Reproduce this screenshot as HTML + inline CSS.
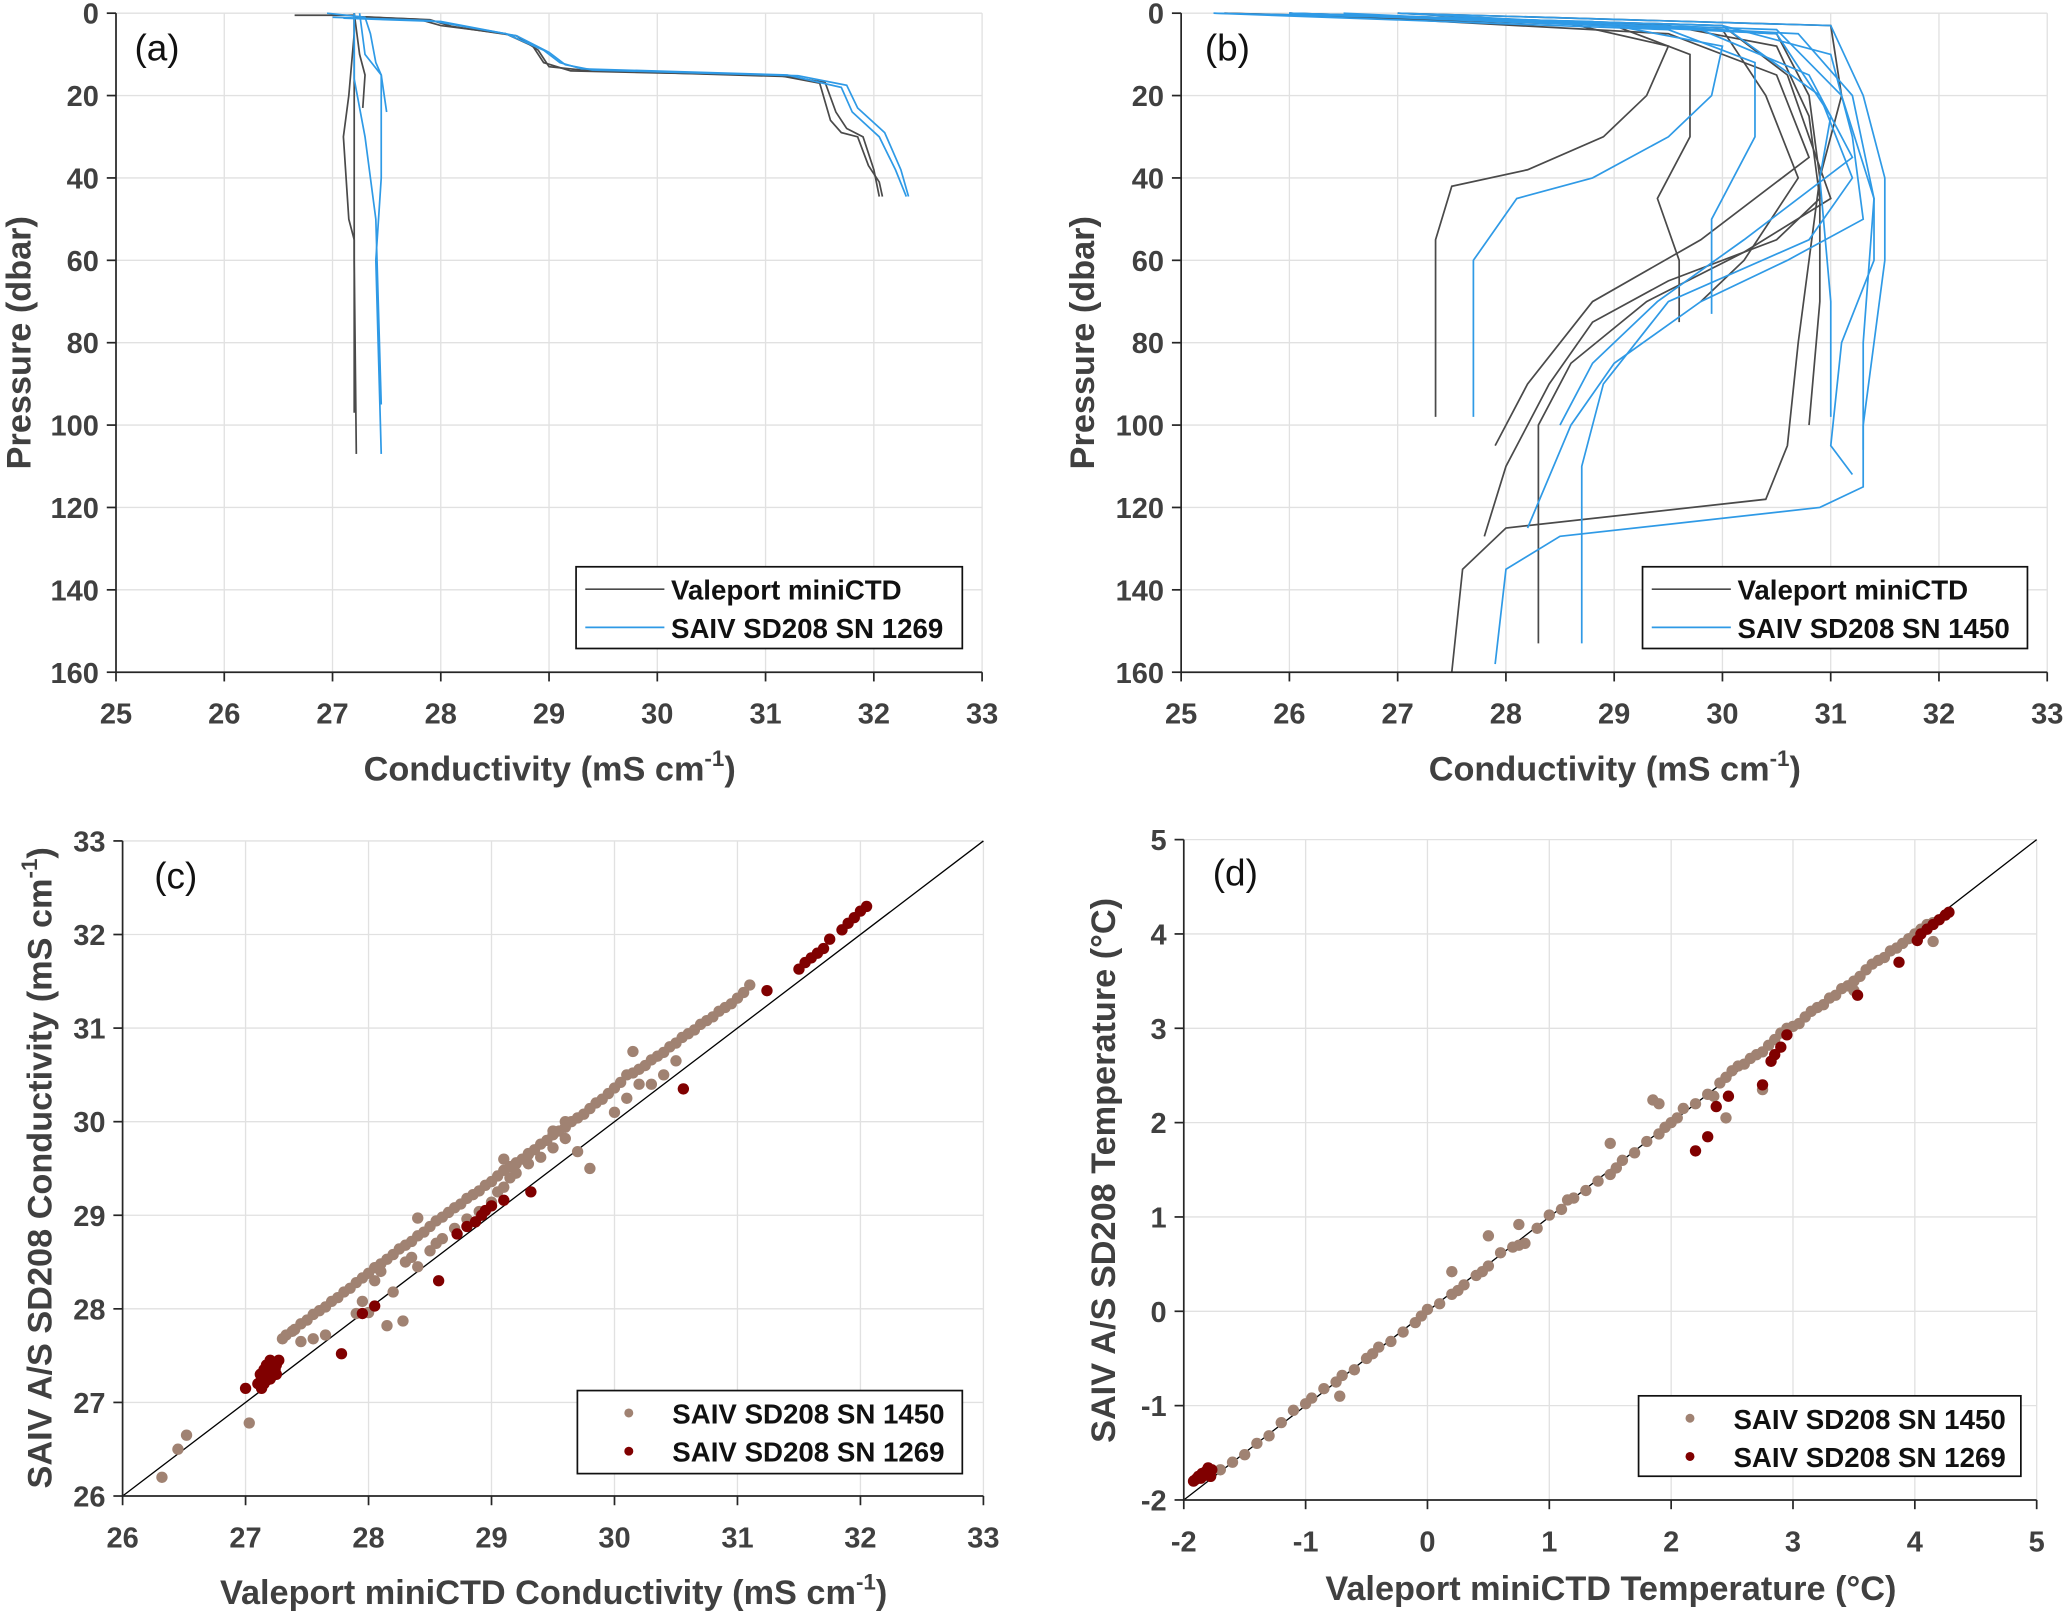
<!DOCTYPE html>
<html><head><meta charset="utf-8">
<style>
html,body{margin:0;padding:0;background:#fff;}
svg{display:block;}
text{font-family:"Liberation Sans",Arial,sans-serif;}
</style></head>
<body>
<svg id="fig" xmlns="http://www.w3.org/2000/svg" width="2067" height="1612" viewBox="0 0 1568 1223" preserveAspectRatio="none"></svg>
<script>
// ---------- DATA ----------
const aValeport = [
 [[26.65,0.5],[27.2,0.5],[27.2,5],[27.15,20],[27.1,30],[27.15,50],[27.2,55],[27.2,97]],
 [[27.2,0],[27.2,20],[27.2,40],[27.2,60],[27.22,107]],
 [[27.2,0],[27.25,10],[27.3,15],[27.28,23]],
 [[27.2,0.8],[27.8,1.5],[28.0,3],[28.6,5],[28.85,8],[28.95,12],[29.2,14],[30,14.5],[31.1,15],[31.5,17],[31.6,26],[31.7,29],[31.85,30],[31.95,37],[32.05,41],[32.08,44.5]],
 [[27.3,0.9],[27.9,1.6],[28.1,3.2],[28.7,5.5],[28.9,9],[29.0,13],[29.3,13.8],[30.2,14.6],[31.2,15.4],[31.55,16.8],[31.65,24],[31.75,28],[31.9,30],[32.0,38],[32.05,44.5]]
];
const aSaiv = [
 [[26.95,0],[27.3,1],[27.35,5],[27.4,12],[27.45,15],[27.45,40],[27.4,60],[27.45,107]],
 [[27.2,0],[27.2,16],[27.3,30],[27.4,50],[27.45,95]],
 [[27.25,0],[27.3,10],[27.45,15],[27.5,24]],
 [[27.0,1],[27.9,1.8],[28.6,5],[28.95,9],[29.1,12],[29.3,13.5],[31.2,15],[31.7,18],[31.8,24],[32.05,30],[32.2,38],[32.3,44.5]],
 [[27.1,1.2],[28.0,2],[28.7,5.5],[29.0,9.5],[29.15,12.5],[29.4,13.8],[31.3,15.2],[31.75,17.5],[31.85,23],[32.1,29],[32.25,38],[32.32,44.5]]
];
const bValeport = [
 [[25.4,0],[28.5,2],[29.5,8],[29.3,20],[28.9,30],[28.2,38],[27.5,42],[27.35,55],[27.35,98]],
 [[25.4,0],[29,3],[29.7,10],[29.7,30],[29.4,45],[29.6,60],[29.6,75]],
 [[26,0],[29.5,3],[30.5,8],[30.8,25],[30.9,45],[30.5,55],[29.5,65],[28.8,75],[28.4,90],[28.0,110],[27.8,127]],
 [[26,0],[30,3],[30.6,15],[30.8,30],[31.0,45],[30.2,58],[29.3,70],[28.6,85],[28.3,100],[28.3,153]],
 [[27,0],[30.5,5],[30.8,20],[30.9,40],[30.8,60],[30.7,80],[30.6,105],[30.4,118],[28.0,125],[27.6,135],[27.5,160]],
 [[27,0],[31,3],[31.1,20],[30.9,40],[30.9,70],[30.8,100]],
 [[26,0],[30,4],[30.4,20],[30.7,40],[30.2,60],[29.8,70]],
 [[26,0],[29.5,5],[30.5,15],[30.8,35],[29.8,55],[28.8,70],[28.2,90],[27.9,105]]
];
const bSaiv = [
 [[25.3,0],[28.8,2],[30,8],[29.9,20],[29.5,30],[28.8,40],[28.1,45],[27.7,60],[27.7,98]],
 [[25.3,0],[29.5,4],[30.3,12],[30.3,30],[29.9,50],[29.9,73]],
 [[26,0],[30,3],[31,10],[31.2,30],[31.3,50],[30.6,60],[29.8,70],[29,85],[28.6,100],[28.2,125]],
 [[26,0],[30.5,4],[31.1,20],[31.4,45],[31.4,60],[31.1,80],[31.0,105],[31.2,112]],
 [[27,0],[30.7,5],[31.2,20],[31.4,45],[31.3,80],[31.3,106]],
 [[27,0],[31,3],[31.3,20],[31.5,40],[31.5,60],[31.3,100],[31.3,115],[30.9,120],[28.5,127],[28.0,135],[27.9,158]],
 [[26,0],[30,3],[30.9,20],[31.2,40],[30.8,55],[29.5,70],[28.9,90],[28.7,110],[28.7,153]],
 [[26,0],[29.8,4],[30.8,15],[31.2,35],[30.2,55],[29.4,70],[28.8,85],[28.5,100]],
 [[26.5,0],[30.5,5],[31,25],[30.9,40],[31.0,70],[31.0,98]]
];
const c1450x = [26.32,26.45,26.52,27.03,27.3,27.33,27.38,27.4,27.45,27.5,27.55,27.6,27.65,27.7,27.75,27.8,27.85,27.9,27.95,28.0,28.05,28.1,28.15,28.2,28.25,28.3,28.35,28.4,28.45,28.5,28.55,28.6,28.65,28.7,28.75,28.8,28.85,28.9,28.95,29.0,29.05,29.1,29.15,29.2,29.25,29.3,29.35,29.4,29.45,29.5,29.55,29.6,29.65,29.7,29.75,29.8,29.85,29.9,29.95,30.0,30.05,30.1,30.15,30.2,30.25,30.3,30.35,30.4,30.45,30.5,30.55,30.6,30.65,30.7,30.75,30.8,30.85,30.9,30.95,31.0,31.05,31.1,
 27.45,27.55,27.65,27.9,27.95,28.0,28.05,28.15,28.2,28.28,28.3,28.35,28.4,28.5,28.55,28.6,28.7,28.8,28.9,29.0,29.05,29.1,29.15,29.2,29.3,29.4,29.5,29.6,29.7,29.8,30.0,30.1,30.2,30.3,30.4,30.5,29.1,29.2,29.3,29.5,29.6,28.4,28.1,30.15];
const c1450y = [26.2,26.5,26.65,26.78,27.68,27.72,27.76,27.78,27.84,27.88,27.94,27.98,28.02,28.08,28.12,28.18,28.22,28.28,28.33,28.38,28.44,28.48,28.53,28.58,28.64,28.68,28.72,28.78,28.82,28.88,28.94,28.98,29.03,29.08,29.12,29.18,29.22,29.26,29.32,29.36,29.42,29.48,29.52,29.56,29.6,29.66,29.7,29.76,29.8,29.86,29.9,29.94,30.0,30.04,30.08,30.14,30.2,30.24,30.3,30.36,30.42,30.5,30.52,30.56,30.6,30.66,30.7,30.74,30.8,30.84,30.9,30.94,30.98,31.04,31.08,31.12,31.18,31.22,31.26,31.32,31.38,31.46,
 27.65,27.68,27.72,27.95,28.08,27.96,28.3,27.82,28.18,27.87,28.5,28.55,28.97,28.62,28.7,28.75,28.86,28.96,29.04,29.14,29.25,29.3,29.4,29.45,29.55,29.62,29.72,29.82,29.68,29.5,30.1,30.25,30.4,30.4,30.5,30.65,29.6,29.55,29.65,29.9,30.0,28.45,28.4,30.75];
const c1269x = [27.0,27.1,27.12,27.13,27.15,27.15,27.17,27.18,27.2,27.2,27.22,27.22,27.25,27.25,27.27,27.13,27.16,27.19,27.21,27.24,27.78,27.95,28.05,28.57,28.72,28.8,28.87,28.92,28.95,29.0,29.1,29.32,30.56,31.24,31.5,31.55,31.6,31.65,31.7,31.75,31.85,31.9,31.95,32.0,32.05];
const c1269y = [27.15,27.2,27.3,27.25,27.35,27.2,27.4,27.3,27.45,27.25,27.35,27.42,27.4,27.3,27.45,27.15,27.28,27.38,27.3,27.35,27.52,27.95,28.03,28.3,28.8,28.88,28.93,29.0,29.05,29.1,29.16,29.25,30.35,31.4,31.63,31.7,31.75,31.8,31.85,31.95,32.05,32.12,32.18,32.25,32.3];
const d1450x = [-1.78,-1.7,-1.6,-1.5,-1.4,-1.3,-1.2,-1.1,-1.0,-0.95,-0.85,-0.75,-0.7,-0.6,-0.5,-0.45,-0.4,-0.3,-0.2,-0.1,-0.05,0,0.1,0.2,0.25,0.3,0.4,0.45,0.5,0.5,0.6,0.7,0.75,0.8,0.9,1.0,1.1,1.15,1.2,1.3,1.4,1.5,1.55,1.6,1.7,1.8,1.9,1.95,2.0,2.05,2.1,2.2,2.3,2.35,2.4,2.45,2.5,2.55,2.6,2.65,2.7,2.75,2.8,2.85,2.9,2.95,3.0,3.05,3.1,3.15,3.2,3.25,3.3,3.35,3.4,3.45,3.5,3.55,3.6,3.65,3.7,3.75,3.8,3.85,3.9,3.95,4.0,4.05,4.1,4.15,-0.72,0.2,0.75,1.5,1.85,1.9,2.45,2.75,3.5,4.15];
const d1450y = [-1.75,-1.68,-1.6,-1.52,-1.4,-1.32,-1.18,-1.05,-0.98,-0.92,-0.82,-0.75,-0.68,-0.62,-0.5,-0.45,-0.38,-0.32,-0.22,-0.12,-0.05,0.02,0.08,0.18,0.22,0.28,0.38,0.42,0.48,0.8,0.62,0.68,0.7,0.72,0.88,1.02,1.08,1.18,1.2,1.28,1.38,1.45,1.52,1.6,1.68,1.8,1.88,1.95,2.0,2.05,2.15,2.2,2.3,2.28,2.42,2.48,2.55,2.6,2.62,2.68,2.72,2.75,2.82,2.88,2.95,3.0,3.02,3.05,3.12,3.18,3.22,3.25,3.32,3.35,3.42,3.45,3.5,3.55,3.62,3.68,3.72,3.75,3.82,3.85,3.9,3.95,4.0,4.05,4.1,4.12,-0.9,0.42,0.92,1.78,2.24,2.2,2.05,2.35,3.4,3.92];
const d1269x = [-1.92,-1.9,-1.88,-1.86,-1.85,-1.83,-1.82,-1.8,-1.8,-1.78,-1.78,-1.77,2.2,2.3,2.37,2.47,2.75,2.82,2.85,2.9,2.95,3.53,3.87,4.02,4.05,4.1,4.15,4.2,4.25,4.28];
const d1269y = [-1.8,-1.78,-1.75,-1.77,-1.72,-1.74,-1.7,-1.72,-1.66,-1.7,-1.75,-1.68,1.7,1.85,2.17,2.28,2.4,2.65,2.72,2.8,2.93,3.35,3.7,3.93,4.0,4.05,4.1,4.15,4.2,4.23];
const condTicks = [25,26,27,28,29,30,31,32,33];
const presTicks = [0,20,40,60,80,100,120,140,160];
const condTicksC = [26,27,28,29,30,31,32,33];
const tempTicks = [-2,-1,0,1,2,3,4,5];

// ---------- DRAWING ----------
const NS = "http://www.w3.org/2000/svg";
const svg = document.getElementById('fig');
const GRAY = "#404040", BLACKLINE = "#4a4a4a", BLUE = "#2f9ae6", TAN = "#a08272", DARKRED = "#800000";
function el(tag, attrs, parent){
  const e = document.createElementNS(NS, tag);
  for (const k in attrs) e.setAttribute(k, attrs[k]);
  (parent||svg).appendChild(e);
  return e;
}
function scale(d0,d1,r0,r1){ return v => r0 + (v-d0)/(d1-d0)*(r1-r0); }

function makeAxes(p){
  const g = el('g', {});
  
  
  const sx = scale(p.xmin,p.xmax,p.x0,p.x1), sy = scale(p.ymin,p.ymax,p.yb,p.yt);
  p.xt.forEach(v=>{ const l=el('line',{x1:sx(v),x2:sx(v),y1:p.yt,y2:p.yb,stroke:"#e1e1e1","stroke-width":1},g);
      });
  p.yt_.forEach(v=>{ const l=el('line',{x1:p.x0,x2:p.x1,y1:sy(v),y2:sy(v),stroke:"#e1e1e1","stroke-width":1},g);
      });
  return {g,sx,sy};
}
function frame(p,g,sx,sy){
  const ax = el('path',{d:`M${p.x0},${p.yt} V${p.yb} H${p.x1}`,fill:"none",stroke:"#262626","stroke-width":1.3},g);
   
  p.xt.forEach(v=>{
    el('line',{x1:sx(v),x2:sx(v),y1:p.yb,y2:p.yb+7,stroke:"#262626","stroke-width":1.3},g);
    const t=el('text',{x:sx(v),y:p.yb+39,"text-anchor":"middle","font-size":22,"font-weight":"bold",fill:GRAY},g);
    t.textContent = v;
     
  });
  p.yt_.forEach(v=>{
    el('line',{x1:p.x0-7,x2:p.x0,y1:sy(v),y2:sy(v),stroke:"#262626","stroke-width":1.3},g);
    const t=el('text',{x:p.x0-13,y:sy(v)+8,"text-anchor":"end","font-size":22,"font-weight":"bold",fill:GRAY},g);
    t.textContent = v;
     
  });
}
function profiles(list,color,g,sx,sy,nm){
  list.forEach(pr=>{
    const d = pr.map((q,i)=>(i?'L':'M')+sx(q[0]).toFixed(1)+','+sy(q[1]).toFixed(1)).join(' ');
    const pa = el('path',{d:d,fill:"none",stroke:color,"stroke-width":1.3},g);
    
    
  });
}
function dots(xs,ys,color,g,sx,sy,nm){
  xs.forEach((x,i)=>{
    const c = el('circle',{cx:sx(x),cy:sy(ys[i]),r:4.3,fill:color},g);
    
    
  });
}
function label(txt,x,y,g){
  const t = el('text',{x:x,y:y,"font-size":28,fill:"#111"},g);
  t.textContent = txt;
   
}
function legend(g,bx,by,bw,bh,entries,kind){
  const lg = el('g',{},g);
   
  el('rect',{x:bx,y:by,width:bw,height:bh,fill:"#fff",stroke:"#111","stroke-width":1.3},lg);
  entries.forEach((e,i)=>{
    const cy = by + 17 + i*29;
    const eg = el('g',{},lg);
     
    if (kind==='line') el('line',{x1:bx+7,x2:bx+67,y1:cy,y2:cy,stroke:e.c,"stroke-width":1.3},eg);
    else el('circle',{cx:bx+39,cy:cy,r:3.4,fill:e.c},eg);
    const t = el('text',{x:bx+72,y:cy+8,"font-size":21,"font-weight":"bold",fill:"#111"},eg);
    t.textContent = e.t;
  });
}
function ytitle(x,y,g,parts){
  const t = el('text',{transform:`translate(${x},${y}) rotate(-90)`,"text-anchor":"middle","font-size":26,"font-weight":"bold",fill:GRAY},g);
  parts(t);
   
}
function xtitle(x,y,g,parts){
  const t = el('text',{x:x,y:y,"text-anchor":"middle","font-size":26,"font-weight":"bold",fill:GRAY},g);
  parts(t);
   
}
function condUnits(t,prefix){
  const a = el('tspan',{},t); a.textContent = prefix + " (mS cm";
  const s = el('tspan',{dy:-11,"font-size":17},t); s.textContent = "-1";
  const b = el('tspan',{dy:11},t); b.textContent = ")";
}

(function(){
  const p={name:'panel-a',x0:88,x1:745,yt:10,yb:510,xmin:25,xmax:33,ymin:160,ymax:0,xt:condTicks,yt_:presTicks};
  const {g,sx,sy}=makeAxes(p);
  profiles(aValeport,BLACKLINE,g,sx,sy,'valeport-profile');
  profiles(aSaiv,BLUE,g,sx,sy,'saiv-1269-profile');
  frame(p,g,sx,sy);
  label('(a)',102,46,g);
  legend(g,437,430,293,62,[{t:'Valeport miniCTD',c:BLACKLINE},{t:'SAIV SD208 SN 1269',c:BLUE}],'line');
  ytitle(23,260,g,t=>{t.textContent='Pressure (dbar)';});
  xtitle(417,592,g,t=>condUnits(t,'Conductivity'));
})();
(function(){
  const p={name:'panel-b',x0:896,x1:1553,yt:10,yb:510,xmin:25,xmax:33,ymin:160,ymax:0,xt:condTicks,yt_:presTicks};
  const {g,sx,sy}=makeAxes(p);
  profiles(bValeport,BLACKLINE,g,sx,sy,'valeport-profile');
  profiles(bSaiv,BLUE,g,sx,sy,'saiv-1450-profile');
  frame(p,g,sx,sy);
  label('(b)',914,46,g);
  legend(g,1246,430,292,62,[{t:'Valeport miniCTD',c:BLACKLINE},{t:'SAIV SD208 SN 1450',c:BLUE}],'line');
  ytitle(830,260,g,t=>{t.textContent='Pressure (dbar)';});
  xtitle(1225,592,g,t=>condUnits(t,'Conductivity'));
})();
(function(){
  const p={name:'panel-c',x0:93,x1:746,yt:638,yb:1135,xmin:26,xmax:33,ymin:26,ymax:33,xt:condTicksC,yt_:condTicksC};
  const {g,sx,sy}=makeAxes(p);
  const one = el('line',{x1:sx(26),y1:sy(26),x2:sx(33),y2:sy(33),stroke:"#000","stroke-width":1},g);
   
  dots(c1450x,c1450y,TAN,g,sx,sy,'sn1450-point');
  dots(c1269x,c1269y,DARKRED,g,sx,sy,'sn1269-point');
  frame(p,g,sx,sy);
  label('(c)',117,674,g);
  legend(g,438,1055,292,63,[{t:'SAIV SD208 SN 1450',c:TAN},{t:'SAIV SD208 SN 1269',c:DARKRED}],'dot');
  ytitle(39,886,g,t=>condUnits(t,'SAIV A/S SD208 Conductivity'));
  xtitle(420,1217,g,t=>condUnits(t,'Valeport miniCTD Conductivity'));
})();
(function(){
  const p={name:'panel-d',x0:898,x1:1545,yt:637,yb:1138,xmin:-2,xmax:5,ymin:-2,ymax:5,xt:tempTicks,yt_:tempTicks};
  const {g,sx,sy}=makeAxes(p);
  const one = el('line',{x1:sx(-2),y1:sy(-2),x2:sx(5),y2:sy(5),stroke:"#000","stroke-width":1},g);
   
  dots(d1450x,d1450y,TAN,g,sx,sy,'sn1450-point');
  dots(d1269x,d1269y,DARKRED,g,sx,sy,'sn1269-point');
  frame(p,g,sx,sy);
  label('(d)',920,672,g);
  legend(g,1243,1059,290,61,[{t:'SAIV SD208 SN 1450',c:TAN},{t:'SAIV SD208 SN 1269',c:DARKRED}],'dot');
  ytitle(846,888,g,t=>{t.textContent='SAIV A/S SD208 Temperature (\u00B0C)';});
  xtitle(1222,1214,g,t=>{t.textContent='Valeport miniCTD Temperature (\u00B0C)';});
})();
</script>
</body></html>
